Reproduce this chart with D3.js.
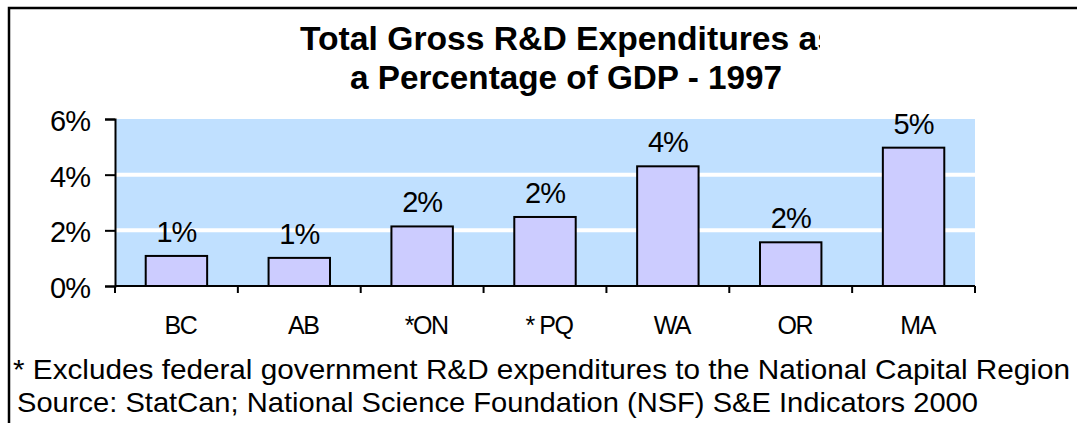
<!DOCTYPE html>
<html>
<head>
<meta charset="utf-8">
<script src="https://cdn.jsdelivr.net/npm/d3@7"></script>
<style>
  html, body { margin: 0; padding: 0; background: #fff; }
  svg { display: block; font-family: "Liberation Sans", Arial, sans-serif; }
</style>
</head>
<body>
<div id="chart"></div>
<script>
// R&D spending as share of GDP, 1997 - bar chart

const titleLines = ['Total Gross R&D Expenditures as', 'a Percentage of GDP - 1997'];
const regions = ['BC', 'AB', '*ON', '* PQ', 'WA', 'OR', 'MA'];
const shares = [1.08, 1.01, 2.14, 2.48, 4.3, 1.57, 4.97];
const yTicks = [0, 2, 4, 6];
const notes = [
  '* Excludes federal government R&D expenditures to the National Capital Region',
  'Source: StatCan; National Science Foundation (NSF)  S&E Indicators 2000'
];

(function() {
  const W = 1077, H = 423;
  const plot = { left: 115, right: 975, top: 119, bottom: 286 };

  const svg = d3.select('#chart')
    .append('svg')
    .attr('width', W)
    .attr('height', H);

  // outer frame (runs off the right and bottom edges)
  svg.append('rect')
    .attr('x', 9)
    .attr('y', 8)
    .attr('width', 1200)
    .attr('height', 500)
    .attr('fill', 'none')
    .attr('stroke', '#000')
    .attr('stroke-width', 2.5);

  const x = d3.scaleBand()
    .domain(regions)
    .range([plot.left, plot.right])
    .paddingInner(0.5)
    .paddingOuter(0.25);

  const y = d3.scaleLinear()
    .domain([0, 6])
    .range([plot.bottom, plot.top]);

  // plot background
  svg.append('rect')
    .attr('x', plot.left)
    .attr('y', plot.top)
    .attr('width', plot.right - plot.left)
    .attr('height', plot.bottom - plot.top)
    .attr('fill', '#C0E0FF');

  // white gridlines
  svg.append('g')
    .selectAll('line')
    .data(yTicks.filter(t => t > 0 && t < 6))
    .enter()
    .append('line')
    .attr('x1', plot.left)
    .attr('x2', plot.right)
    .attr('y1', d => y(d))
    .attr('y2', d => y(d))
    .attr('stroke', '#fff')
    .attr('stroke-width', 4);

  // bars
  svg.append('g')
    .selectAll('rect')
    .data(regions)
    .enter()
    .append('rect')
    .attr('x', d => x(d))
    .attr('y', (d, i) => y(shares[i]))
    .attr('width', x.bandwidth())
    .attr('height', (d, i) => plot.bottom - y(shares[i]))
    .attr('fill', '#CCCCFF')
    .attr('stroke', '#000')
    .attr('stroke-width', 2);

  // value labels
  const pct = d3.format('.0%');
  svg.append('g')
    .selectAll('text')
    .data(regions)
    .enter()
    .append('text')
    .attr('x', d => x(d) + x.bandwidth() / 2)
    .attr('y', (d, i) => y(shares[i]) - 14)
    .attr('text-anchor', 'middle')
    .style('font-size', '29px')
    .style('letter-spacing', '-1px')
    .style('fill', '#000')
    .text((d, i) => pct(shares[i] / 100));

  // y axis
  const yAxis = d3.axisLeft(y)
    .tickValues(yTicks)
    .tickFormat(d => d + '%')
    .tickSize(10)
    .tickPadding(15);

  const gy = svg.append('g')
    .attr('transform', `translate(${plot.left},0)`)
    .call(yAxis);
  gy.select('.domain').attr('stroke', '#000').attr('stroke-width', 2);
  gy.selectAll('line').attr('stroke', '#000').attr('stroke-width', 2);
  gy.selectAll('text')
    .style('font-size', '29px')
    .style('letter-spacing', '-1px')
    .style('font-family', '"Liberation Sans", Arial, sans-serif')
    .attr('fill', '#000')
    .attr('dy', '0.4em');

  // x axis: ticks between categories
  const gx = svg.append('g');
  gx.append('line')
    .attr('x1', plot.left)
    .attr('x2', plot.right)
    .attr('y1', plot.bottom)
    .attr('y2', plot.bottom)
    .attr('stroke', '#000')
    .attr('stroke-width', 2);
  const step = x.step();
  gx.selectAll('.xtick')
    .data(d3.range(regions.length + 1))
    .enter()
    .append('line')
    .attr('class', 'xtick')
    .attr('x1', i => plot.left + i * step)
    .attr('x2', i => plot.left + i * step)
    .attr('y1', plot.bottom)
    .attr('y2', plot.bottom + 7)
    .attr('stroke', '#000')
    .attr('stroke-width', 2);
  gx.selectAll('.xlabel')
    .data(regions)
    .enter()
    .append('text')
    .attr('class', 'xlabel')
    .attr('x', d => x(d) + x.bandwidth() / 2 + 4)
    .attr('y', 334)
    .attr('text-anchor', 'middle')
    .style('font-size', '25px')
    .style('letter-spacing', '-1.5px')
    .text(d => d);

  // title, clipped on the right like the original
  svg.append('clipPath')
    .attr('id', 'titleClip')
    .append('rect')
    .attr('x', 0)
    .attr('y', 0)
    .attr('width', 820)
    .attr('height', 110);

  const titleSpans = [[300, 50, 536], [350, 89, 432]];
  svg.append('g')
    .attr('clip-path', 'url(#titleClip)')
    .selectAll('text')
    .data(titleLines)
    .enter()
    .append('text')
    .attr('x', (d, i) => titleSpans[i][0])
    .attr('y', (d, i) => titleSpans[i][1])
    .attr('textLength', (d, i) => titleSpans[i][2])
    .attr('lengthAdjust', 'spacingAndGlyphs')
    .style('font-size', '33px')
    .style('font-weight', 'bold')
    .text(d => d);

  // footnotes
  const noteSpans = [[13, 379, 1057], [17, 412, 961]];
  svg.append('g')
    .selectAll('text')
    .data(notes)
    .enter()
    .append('text')
    .attr('x', (d, i) => noteSpans[i][0])
    .attr('y', (d, i) => noteSpans[i][1])
    .attr('textLength', (d, i) => noteSpans[i][2])
    .attr('lengthAdjust', 'spacingAndGlyphs')
    .style('font-size', '28px')
    .text(d => d);
})();
</script>
</body>
</html>
